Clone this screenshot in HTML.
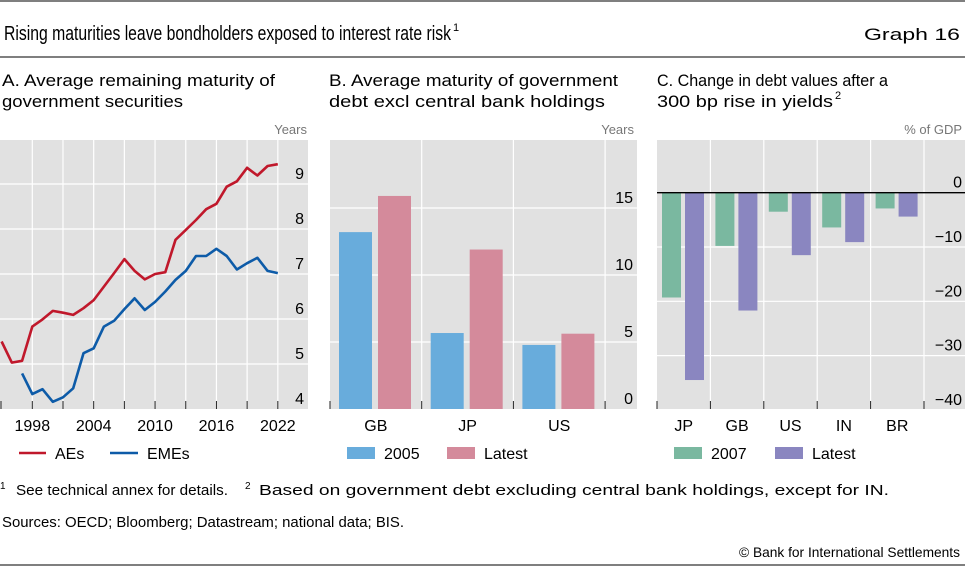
<!DOCTYPE html>
<html><head><meta charset="utf-8">
<style>
html,body{margin:0;padding:0;background:#fff;}
svg{display:block;font-family:"Liberation Sans",sans-serif;}
</style></head>
<body>
<svg id="g" width="965" height="567" viewBox="0 0 965 567" xmlns="http://www.w3.org/2000/svg">
<line x1="0" y1="1" x2="965" y2="1" stroke="#333" stroke-width="1.2"/>
<text x="4" y="40" font-size="20" fill="#000" textLength="447" lengthAdjust="spacingAndGlyphs">Rising maturities leave bondholders exposed to interest rate risk</text>
<text x="453" y="31" font-size="11">1</text>
<text x="960" y="40" font-size="17" text-anchor="end" textLength="96" lengthAdjust="spacingAndGlyphs">Graph 16</text>
<line x1="0" y1="57" x2="965" y2="57" stroke="#333" stroke-width="1.2"/>

<text font-size="17"><tspan x="2" y="86" textLength="273" lengthAdjust="spacingAndGlyphs">A. Average remaining maturity of</tspan><tspan x="2" y="107" textLength="181" lengthAdjust="spacingAndGlyphs">government securities</tspan></text>
<text font-size="17"><tspan x="329" y="86" textLength="289" lengthAdjust="spacingAndGlyphs">B. Average maturity of government</tspan><tspan x="329" y="107" textLength="276" lengthAdjust="spacingAndGlyphs">debt excl central bank holdings</tspan></text>
<text font-size="17"><tspan x="657" y="86" textLength="231" lengthAdjust="spacingAndGlyphs">C. Change in debt values after a</tspan><tspan x="657" y="107" textLength="176" lengthAdjust="spacingAndGlyphs">300 bp rise in yields</tspan><tspan font-size="11" x="835" y="99">2</tspan></text>

<text x="307" y="134" font-size="13" fill="#777" text-anchor="end">Years</text>
<text x="634" y="134" font-size="13" fill="#777" text-anchor="end">Years</text>
<text x="962" y="134" font-size="13" fill="#777" text-anchor="end">% of GDP</text>

<g id="pa"></g><g id="pb"></g><g id="pc"></g>

<text x="0" y="489" font-size="10">1</text>
<text x="16" y="495" font-size="15" textLength="212" lengthAdjust="spacingAndGlyphs">See technical annex for details.</text>
<text x="245" y="489" font-size="10">2</text>
<text x="259" y="495" font-size="15" textLength="630" lengthAdjust="spacingAndGlyphs">Based on government debt excluding central bank holdings, except for IN.</text>
<text x="2" y="527" font-size="15" textLength="402" lengthAdjust="spacingAndGlyphs">Sources: OECD; Bloomberg; Datastream; national data; BIS.</text>
<text x="960" y="557" font-size="14" text-anchor="end" textLength="221" lengthAdjust="spacingAndGlyphs">© Bank for International Settlements</text>
<line x1="0" y1="565" x2="965" y2="565" stroke="#333" stroke-width="1.2"/>
</svg>
<script>
const NS="http://www.w3.org/2000/svg";
// Panel A data
const yearsA=[1995,1996,1997,1998,1999,2000,2001,2002,2003,2004,2005,2006,2007,2008,2009,2010,2011,2012,2013,2014,2015,2016,2017,2018,2019,2020,2021,2022];
const aeValues=[5.50,5.03,5.07,5.83,5.99,6.18,6.14,6.09,6.24,6.42,6.72,7.02,7.33,7.07,6.88,7.0,7.04,7.76,7.98,8.2,8.44,8.56,8.94,9.06,9.36,9.19,9.4,9.44];
const emeValues=[null,null,4.79,4.33,4.44,4.16,4.26,4.46,5.24,5.35,5.83,5.96,6.22,6.46,6.2,6.38,6.61,6.87,7.07,7.4,7.4,7.56,7.4,7.1,7.24,7.36,7.07,7.02];
const tickYearsA=[1998,2004,2010,2016,2022];
const tickValsA=[4,5,6,7,8,9];
// Panel B data
const catsB=["GB","JP","US"];
const b2005=[13.2,5.67,4.78];
const bLatest=[15.9,11.9,5.62];
const tickValsB=[0,5,10,15];
// Panel C data
const catsC=["JP","GB","US","IN","BR"];
const c2007=[-19.3,-9.8,-3.5,-6.4,-2.9];
const cLatest=[-34.5,-21.7,-11.5,-9.1,-4.4];
const tickValsC=[0,-10,-20,-30,-40];

function mk(parent,tag,attrs,text){const e=document.createElementNS(NS,tag);for(const k in attrs)e.setAttribute(k,attrs[k]);if(text!==undefined)e.textContent=text;parent.appendChild(e);return e;}

// ---- Panel A
(function(){
const g=document.getElementById('pa');
const L=0,R=308,T=140,B=409;
const xA=y=>32.3+(y-1998)*10.23;
const yA=v=>409-(v-4)*45;
let e=mk(g,'rect',{x:L,y:T,width:R-L,height:B-T,fill:'#e1e1e1'});

for(let yr=1998;yr<=2022;yr+=3){e=mk(g,'line',{x1:xA(yr),y1:T,x2:xA(yr),y2:B,stroke:'#fff','stroke-width':1.2});

e=mk(g,'line',{x1:xA(yr),y1:B-8,x2:xA(yr),y2:B,stroke:'#222','stroke-width':1});
}
e=mk(g,'line',{x1:1,y1:B-8,x2:1,y2:B,stroke:'#222','stroke-width':1});

tickValsA.forEach(v=>{if(v>4){e=mk(g,'line',{x1:L,y1:yA(v),x2:R,y2:yA(v),stroke:'#fff','stroke-width':1.2});
}
e=mk(g,'text',{x:R-4,y:yA(v)-5,'font-size':16,'text-anchor':'end'},String(v));
});
tickYearsA.forEach(yr=>{e=mk(g,'text',{x:xA(yr),y:431,'font-size':16,'text-anchor':'middle'},String(yr));
});
function line(vals,col,name){let d='';vals.forEach((v,i)=>{if(v===null)return;d+=(d?'L':'M')+xA(yearsA[i]).toFixed(1)+','+yA(v).toFixed(1);});
const p=mk(g,'path',{d:d,fill:'none',stroke:col,'stroke-width':2.6,'stroke-linejoin':'round'});
}
line(aeValues,'#c0182b','aes-line');line(emeValues,'#0d5ba8','emes-line');
e=mk(g,'line',{x1:19,y1:453,x2:46,y2:453,stroke:'#c0182b','stroke-width':2.6});

e=mk(g,'text',{x:55,y:459,'font-size':16},'AEs');

e=mk(g,'line',{x1:110,y1:453,x2:138,y2:453,stroke:'#0d5ba8','stroke-width':2.6});

e=mk(g,'text',{x:147,y:459,'font-size':16},'EMEs');

})();

// ---- Panel B
(function(){
const g=document.getElementById('pb');
const L=330,R=637,T=140,B=409,cw=91.7;
const yB=v=>B-v*13.4;
let e=mk(g,'rect',{x:L,y:T,width:R-L,height:B-T,fill:'#e1e1e1'});

for(let i=1;i<=3;i++){e=mk(g,'line',{x1:L+i*cw,y1:T,x2:L+i*cw,y2:B,stroke:'#fff','stroke-width':1.2});
}
for(let i=0;i<=3;i++){e=mk(g,'line',{x1:L+i*cw,y1:B-8,x2:L+i*cw,y2:B,stroke:'#222','stroke-width':1});
}
tickValsB.forEach(v=>{if(v>0){e=mk(g,'line',{x1:L,y1:yB(v),x2:R,y2:yB(v),stroke:'#fff','stroke-width':1.2});
}
e=mk(g,'text',{x:R-4,y:yB(v)-5,'font-size':16,'text-anchor':'end'},String(v));
});
catsB.forEach((c,i)=>{const x0=L+i*cw;
e=mk(g,'rect',{x:x0+9,y:yB(b2005[i]),width:33,height:B-yB(b2005[i]),fill:'#68acdc'});

e=mk(g,'rect',{x:x0+48,y:yB(bLatest[i]),width:33,height:B-yB(bLatest[i]),fill:'#d48a9b'});

e=mk(g,'text',{x:x0+cw/2,y:431,'font-size':16,'text-anchor':'middle'},c);
});
e=mk(g,'rect',{x:347,y:447,width:28,height:12,fill:'#68acdc'});

e=mk(g,'text',{x:384,y:459,'font-size':16},'2005');

e=mk(g,'rect',{x:447,y:447,width:28,height:12,fill:'#d48a9b'});

e=mk(g,'text',{x:484,y:459,'font-size':16},'Latest');

})();

// ---- Panel C
(function(){
const g=document.getElementById('pc');
const L=657,R=965,T=140,B=409,cw=53.4;
const yC=v=>192.7-v*5.43;
let e=mk(g,'rect',{x:L,y:T,width:R-L,height:B-T,fill:'#e1e1e1'});

for(let i=1;i<=5;i++){e=mk(g,'line',{x1:L+i*cw,y1:T,x2:L+i*cw,y2:B,stroke:'#fff','stroke-width':1.2});
}
for(let i=0;i<=5;i++){e=mk(g,'line',{x1:L+i*cw,y1:B-8,x2:L+i*cw,y2:B,stroke:'#222','stroke-width':1});
}
tickValsC.forEach(v=>{if(v<0&&v>-40){e=mk(g,'line',{x1:L,y1:yC(v),x2:R,y2:yC(v),stroke:'#fff','stroke-width':1.2});
}
e=mk(g,'text',{x:R-3,y:yC(v)-5,'font-size':16,'text-anchor':'end'},v<0?'\u2212'+Math.abs(v):String(v));
});
catsC.forEach((c,i)=>{const x0=L+i*cw;
e=mk(g,'rect',{x:x0+5,y:yC(0),width:19,height:yC(c2007[i])-yC(0),fill:'#7ab8a0'});

e=mk(g,'rect',{x:x0+28,y:yC(0),width:19,height:yC(cLatest[i])-yC(0),fill:'#8a86c0'});

e=mk(g,'text',{x:x0+cw/2,y:431,'font-size':16,'text-anchor':'middle'},c);
});
e=mk(g,'line',{x1:L,y1:yC(0),x2:R,y2:yC(0),stroke:'#000','stroke-width':1.3});

e=mk(g,'rect',{x:674,y:447,width:28,height:12,fill:'#7ab8a0'});

e=mk(g,'text',{x:711,y:459,'font-size':16},'2007');

e=mk(g,'rect',{x:775,y:447,width:28,height:12,fill:'#8a86c0'});

e=mk(g,'text',{x:812,y:459,'font-size':16},'Latest');

})();
</script>
</body></html>
